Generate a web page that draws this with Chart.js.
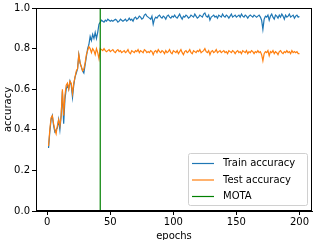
<!DOCTYPE html>
<html>
<head>
<meta charset="utf-8">
<script src="https://cdn.jsdelivr.net/npm/chart.js@4.4.1/dist/chart.umd.min.js"></script>
<style>
  html, body { margin: 0; padding: 0; background: #fff; }
  #wrap { width: 316px; height: 240px; }
</style>
</head>
<body>
<div id="wrap"><canvas id="chart" width="316" height="240"></canvas></div>
<script>
// accuracy per epoch, epochs 1..200
const trainAcc = [
  0.31, 0.39, 0.45, 0.47, 0.42, 0.39, 0.40, 0.41, 0.45, 0.40,
  0.47, 0.59, 0.43, 0.55, 0.60, 0.62, 0.60, 0.64, 0.62, 0.56,
  0.62, 0.66, 0.68, 0.70, 0.77, 0.73, 0.71, 0.69, 0.68, 0.72,
  0.76, 0.80, 0.82, 0.86, 0.84, 0.87, 0.85, 0.88, 0.85, 0.88,
  0.92, 0.93, 0.94, 0.935, 0.93, 0.94, 0.935, 0.945, 0.94, 0.935,
  0.94, 0.935, 0.94, 0.945, 0.94, 0.93, 0.935, 0.945, 0.94, 0.935,
  0.94, 0.945, 0.935, 0.94, 0.95, 0.94, 0.945, 0.935, 0.95, 0.955,
  0.945, 0.95, 0.96, 0.955, 0.945, 0.95, 0.965, 0.97, 0.96, 0.955,
  0.95, 0.945, 0.96, 0.92, 0.945, 0.955, 0.95, 0.96, 0.965, 0.955,
  0.95, 0.96, 0.955, 0.945, 0.96, 0.965, 0.955, 0.95, 0.96, 0.955,
  0.965, 0.955, 0.95, 0.96, 0.97, 0.955, 0.945, 0.96, 0.955, 0.965,
  0.96, 0.95, 0.955, 0.965, 0.96, 0.955, 0.97, 0.96, 0.95, 0.955,
  0.965, 0.96, 0.955, 0.97, 0.975, 0.96, 0.955, 0.965, 0.94, 0.955,
  0.96, 0.965, 0.955, 0.96, 0.95, 0.965, 0.96, 0.955, 0.97, 0.96,
  0.955, 0.965, 0.96, 0.95, 0.96, 0.97, 0.955, 0.96, 0.965, 0.955,
  0.96, 0.965, 0.955, 0.97, 0.96, 0.955, 0.965, 0.96, 0.95, 0.96,
  0.965, 0.96, 0.955, 0.965, 0.96, 0.955, 0.96, 0.965, 0.955, 0.94,
  0.895, 0.945, 0.96, 0.955, 0.965, 0.94, 0.96, 0.97, 0.955, 0.945,
  0.965, 0.96, 0.95, 0.965, 0.955, 0.97, 0.96, 0.945, 0.965, 0.955,
  0.96, 0.97, 0.955, 0.96, 0.965, 0.95, 0.96, 0.965, 0.955, 0.958
];
const testAcc = [
  0.32, 0.40, 0.46, 0.47, 0.43, 0.40, 0.38, 0.42, 0.45, 0.42,
  0.47, 0.60, 0.47, 0.57, 0.62, 0.63, 0.60, 0.64, 0.63, 0.58,
  0.63, 0.66, 0.69, 0.70, 0.77, 0.73, 0.71, 0.69, 0.70, 0.73,
  0.77, 0.79, 0.81, 0.80, 0.78, 0.80, 0.79, 0.77, 0.80, 0.78,
  0.75, 0.80, 0.795, 0.79, 0.80, 0.79, 0.785, 0.79, 0.795, 0.785,
  0.79, 0.795, 0.785, 0.78, 0.79, 0.795, 0.785, 0.79, 0.78, 0.785,
  0.79, 0.78, 0.785, 0.795, 0.78, 0.775, 0.79, 0.785, 0.78, 0.79,
  0.785, 0.795, 0.78, 0.79, 0.785, 0.78, 0.795, 0.79, 0.78, 0.785,
  0.78, 0.79, 0.785, 0.77, 0.785, 0.79, 0.78, 0.795, 0.785, 0.78,
  0.79, 0.785, 0.775, 0.79, 0.78, 0.785, 0.795, 0.78, 0.775, 0.79,
  0.785, 0.78, 0.79, 0.775, 0.785, 0.795, 0.78, 0.77, 0.785, 0.79,
  0.78, 0.785, 0.795, 0.78, 0.775, 0.79, 0.785, 0.78, 0.79, 0.785,
  0.795, 0.78, 0.785, 0.79, 0.80, 0.785, 0.78, 0.79, 0.77, 0.785,
  0.79, 0.78, 0.785, 0.795, 0.78, 0.785, 0.79, 0.78, 0.785, 0.79,
  0.78, 0.785, 0.775, 0.79, 0.785, 0.78, 0.79, 0.785, 0.775, 0.785,
  0.79, 0.78, 0.785, 0.775, 0.79, 0.785, 0.78, 0.79, 0.775, 0.785,
  0.78, 0.79, 0.785, 0.775, 0.785, 0.78, 0.79, 0.78, 0.785, 0.77,
  0.74, 0.775, 0.785, 0.78, 0.79, 0.765, 0.785, 0.78, 0.79, 0.775,
  0.785, 0.78, 0.77, 0.785, 0.79, 0.78, 0.775, 0.785, 0.78, 0.79,
  0.78, 0.785, 0.775, 0.79, 0.78, 0.785, 0.78, 0.785, 0.775, 0.775
];
const firstEpoch = 1;
const motaEpoch = 42;
const xTicks = [0, 50, 100, 150, 200];
const yTicks = [0, 0.2, 0.4, 0.6, 0.8, 1.0];
const seriesLabels = ['Train accuracy', 'Test accuracy', 'MOTA'];

const toPoints = arr => arr.map((v, i) => ({ x: firstEpoch + i, y: v }));
const FONT = { family: 'DejaVu Sans', size: 10 };

// matplotlib-style box around the axes
const frame = {
  id: 'frame',
  afterDatasetsDraw(chart) {
    const { ctx, chartArea: a } = chart;
    ctx.save();
    ctx.strokeStyle = '#000';
    ctx.lineWidth = 1;
    ctx.strokeRect(Math.round(a.left) + 0.5, Math.round(a.top) + 0.5,
      Math.round(a.right - a.left) - 1, Math.round(a.bottom - a.top) - 1);
    ctx.restore();
  }
};

// legend box in the lower right of the axes
const boxLegend = {
  id: 'boxLegend',
  afterDraw(chart) {
    const { ctx, chartArea: a } = chart;
    const w = 119, h = 52;
    const x0 = a.right - 5 - w, y0 = a.bottom - 6 - h;
    ctx.save();
    ctx.fillStyle = 'rgba(255,255,255,0.8)';
    ctx.strokeStyle = '#d0d0d0';
    ctx.lineWidth = 1;
    ctx.beginPath();
    ctx.roundRect(x0 + 0.5, y0 + 0.5, w, h, 2);
    ctx.fill();
    ctx.stroke();
    ctx.font = '10px "DejaVu Sans"';
    ctx.textBaseline = 'middle';
    chart.data.datasets.forEach((ds, i) => {
      const yy = y0 + 10.5 + i * 16.5;
      ctx.strokeStyle = ds.borderColor;
      ctx.lineWidth = 1.2;
      ctx.beginPath();
      ctx.moveTo(x0 + 4, yy);
      ctx.lineTo(x0 + 26, yy);
      ctx.stroke();
      ctx.fillStyle = '#000';
      ctx.fillText(ds.label, x0 + 35, yy);
    });
    ctx.restore();
  }
};

new Chart(document.getElementById('chart'), {
  type: 'line',
  data: {
    datasets: [
      { label: seriesLabels[0], data: toPoints(trainAcc), borderColor: '#1f77b4', borderWidth: 1.2, order: 3 },
      { label: seriesLabels[1], data: toPoints(testAcc), borderColor: '#ff7f0e', borderWidth: 1.2, order: 2 },
      { label: seriesLabels[2], data: [{ x: motaEpoch, y: 0 }, { x: motaEpoch, y: 1 }], borderColor: '#008000', borderWidth: 1.2, order: 1 }
    ]
  },
  options: {
    responsive: false,
    animation: false,
    devicePixelRatio: 1,
    elements: { point: { radius: 0 }, line: { tension: 0 } },
    layout: { padding: { left: 0, top: 5, right: 4, bottom: 0 } },
    plugins: { legend: { display: false }, tooltip: { enabled: false } },
    scales: {
      x: {
        type: 'linear',
        min: -8.95,
        max: 209.95,
        afterBuildTicks: s => { s.ticks = xTicks.map(v => ({ value: v })); },
        afterFit: s => { s.height = 29; },
        grid: { drawOnChartArea: false, drawTicks: true, tickLength: 4, color: '#000' },
        border: { display: true, color: '#000' },
        ticks: { font: FONT, color: '#000', padding: 1, maxRotation: 0 },
        title: { display: true, text: 'epochs', font: FONT, color: '#000', padding: { top: 0, bottom: -2 } }
      },
      y: {
        min: 0,
        max: 1,
        afterBuildTicks: s => { s.ticks = yTicks.map(v => ({ value: v })); },
        afterFit: s => { s.width = 36; },
        grid: { drawOnChartArea: false, drawTicks: true, tickLength: 4, color: '#000' },
        border: { display: true, color: '#000' },
        ticks: { font: FONT, color: '#000', padding: 2, callback: v => v.toFixed(1) },
        title: { display: true, text: 'accuracy', font: FONT, color: '#000', padding: 2 }
      }
    }
  },
  plugins: [frame, boxLegend]
});
</script>
</body>
</html>
